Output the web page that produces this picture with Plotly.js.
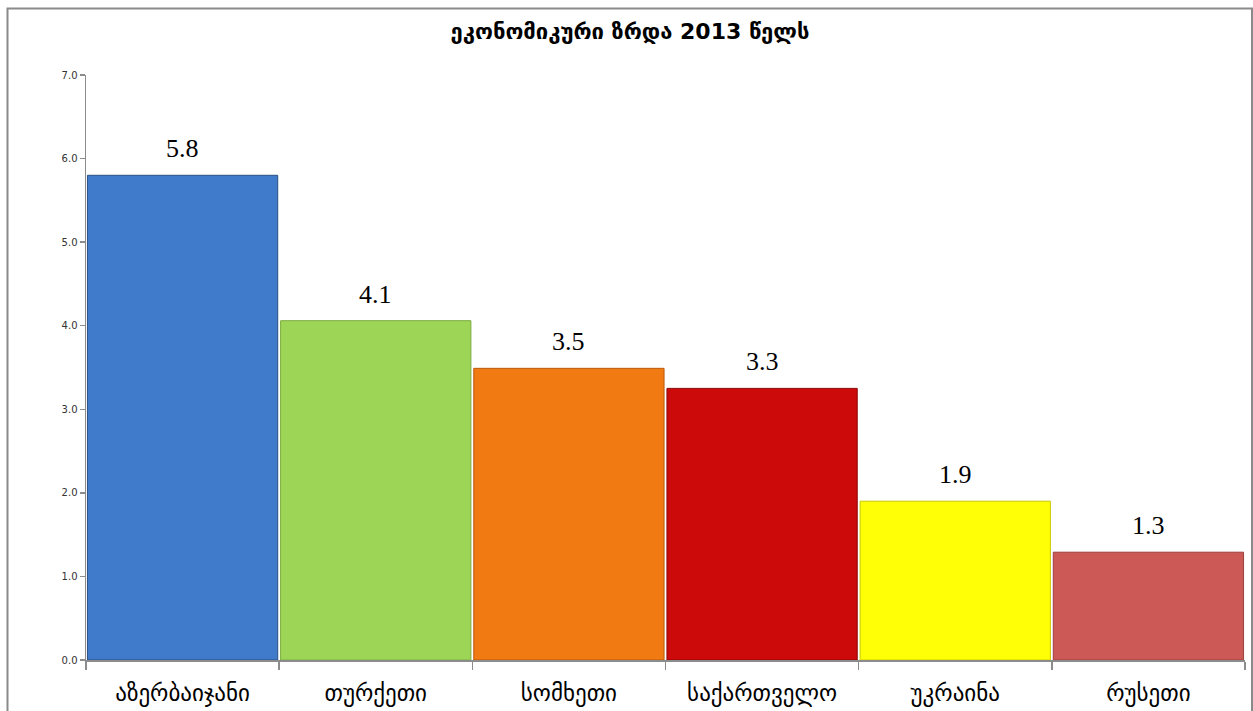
<!DOCTYPE html>
<html>
<head>
<meta charset="utf-8">
<script src="https://cdn.plot.ly/plotly-3.0.1.min.js"></script>
<style>html,body{margin:0;padding:0;background:#fff;}#chart{width:1253px;height:711px;}</style>
</head>
<body>
<div id="chart"></div>
<script>
const categories = ["აზერბაიჯანი", "თურქეთი", "სომხეთი", "საქართველო", "უკრაინა", "რუსეთი"];
const values = [5.8, 4.06, 3.49, 3.25, 1.9, 1.29];
const valueLabels = ["5.8", "4.1", "3.5", "3.3", "1.9", "1.3"];
const barColors = ["#3f7bca", "#9dd657", "#f27a13", "#cc0a0a", "#ffff06", "#cd5957"];
const barEdges = ["#2a4f80", "#7aab3e", "#b9590b", "#8a0505", "#c8c800", "#9c3e3c"];
const chartTitle = "ეკონომიკური ზრდა 2013 წელს";

const W = 1253, H = 711;
const L = 86, R = 8, T = 75, B = 51;
const pw = W - L - R, ph = H - T - B;
const px = v => (v - L) / pw;
const py = v => (H - B - v) / ph;

const trace = {
  type: 'bar',
  x: categories,
  y: values,
  marker: { color: barColors, line: { color: barEdges, width: 1 } },
  hoverinfo: 'none'
};

const annotations = categories.map((c, i) => ({
  x: c, y: values[i], xref: 'x', yref: 'y',
  text: valueLabels[i], showarrow: false,
  yanchor: 'bottom', yshift: 10,
  font: { family: 'Liberation Serif, serif', size: 26, color: '#000' }
}));

const layout = {
  width: W, height: H,
  margin: { l: L, r: R, t: T, b: B },
  paper_bgcolor: '#fff', plot_bgcolor: '#fff',
  showlegend: false,
  bargap: 0.015,
  title: {
    text: chartTitle,
    x: 630 / W, xref: 'container', xanchor: 'center',
    y: 1 - 31 / H, yref: 'container', yanchor: 'middle',
    font: { family: 'DejaVu Sans, sans-serif', size: 22, color: '#000', weight: 'bold' }
  },
  xaxis: {
    showline: true, linecolor: '#8c8c8c', linewidth: 1.5,
    ticks: 'outside', tickson: 'boundaries', ticklen: 8, tickcolor: '#8c8c8c', tickwidth: 1.5,
    ticklabelstandoff: 12,
    tickfont: { family: 'DejaVu Sans, sans-serif', size: 23, color: '#000' },
    showgrid: false, zeroline: false, fixedrange: true
  },
  yaxis: {
    range: [0, 7], dtick: 1, tick0: 0, tickformat: '.1f',
    showline: true, linecolor: '#8c8c8c', linewidth: 1.5,
    ticks: 'outside', ticklen: 5, tickcolor: '#8c8c8c', tickwidth: 1.5,
    tickfont: { family: 'DejaVu Sans, sans-serif', size: 10, color: '#333' },
    showgrid: false, zeroline: false, fixedrange: true
  },
  annotations: annotations,
  shapes: [{
    type: 'rect', xref: 'paper', yref: 'paper', layer: 'below',
    x0: px(7.5), x1: px(1252), y0: py(730), y1: py(8.5),
    line: { color: '#8a8a8a', width: 2 }, fillcolor: 'rgba(0,0,0,0)'
  }]
};

Plotly.newPlot('chart', [trace], layout, { displayModeBar: false, staticPlot: true });
</script>
</body>
</html>
